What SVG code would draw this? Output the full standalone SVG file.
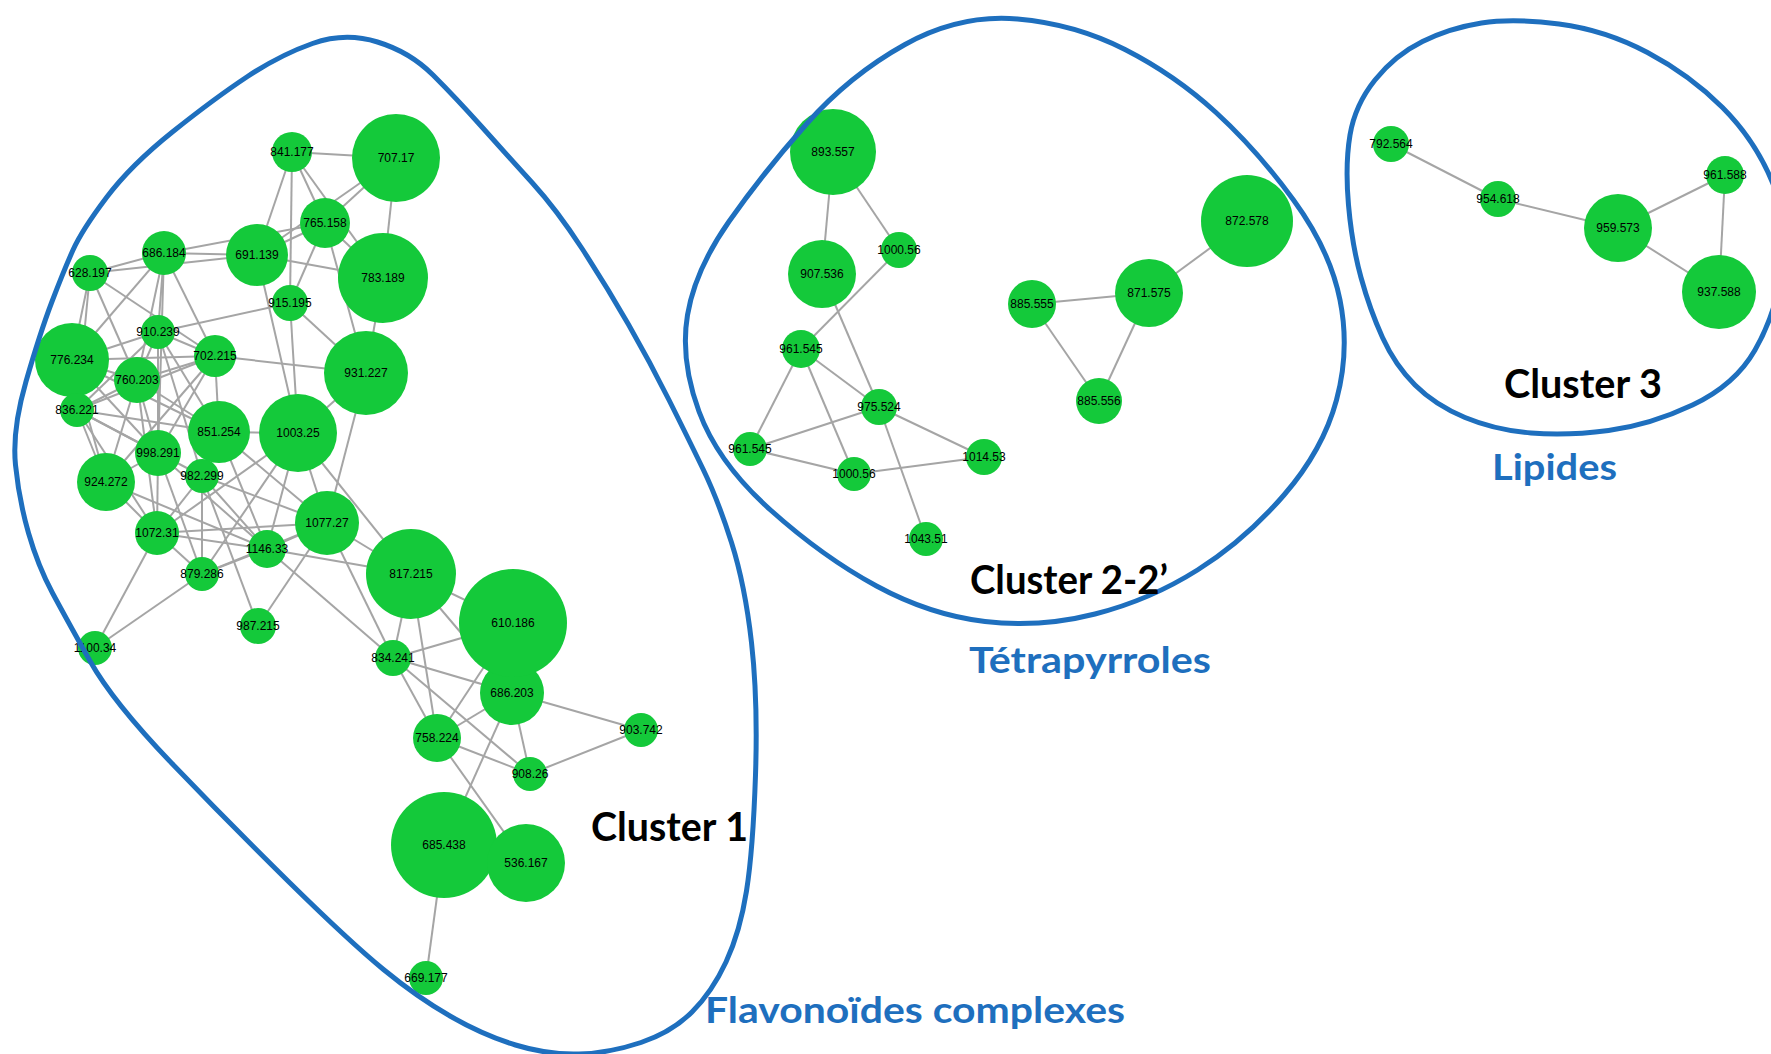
<svg xmlns="http://www.w3.org/2000/svg" width="1771" height="1054" viewBox="0 0 1771 1054">
<style>
.e line{stroke:#a5a5a5;stroke-width:2}
.n circle{fill:#14c93a}
.n text{font-family:"Liberation Sans",Arial,sans-serif;font-size:12px;fill:#000;text-anchor:middle}
.b{fill:none;stroke:#1e6fbe;stroke-width:5}
.cl{font-family:Lato,"Liberation Sans",Arial,sans-serif;font-weight:700;font-size:40px;fill:#000}
.ct{font-family:Lato,"Liberation Sans",Arial,sans-serif;font-weight:700;font-size:37px;fill:#1e6fbe}
</style>
<rect width="1771" height="1054" fill="#fff"/>
<g id="connectors" class="e">
<line x1="292" y1="152" x2="396" y2="158"/>
<line x1="292" y1="152" x2="325" y2="223"/>
<line x1="292" y1="152" x2="383" y2="278"/>
<line x1="292" y1="152" x2="257" y2="255"/>
<line x1="292" y1="152" x2="290" y2="303"/>
<line x1="396" y1="158" x2="325" y2="223"/>
<line x1="396" y1="158" x2="257" y2="255"/>
<line x1="396" y1="158" x2="383" y2="278"/>
<line x1="325" y1="223" x2="257" y2="255"/>
<line x1="325" y1="223" x2="383" y2="278"/>
<line x1="325" y1="223" x2="290" y2="303"/>
<line x1="325" y1="223" x2="366" y2="373"/>
<line x1="383" y1="278" x2="366" y2="373"/>
<line x1="383" y1="278" x2="257" y2="255"/>
<line x1="164" y1="253" x2="90" y2="273"/>
<line x1="90" y1="273" x2="257" y2="255"/>
<line x1="164" y1="253" x2="257" y2="255"/>
<line x1="164" y1="253" x2="325" y2="223"/>
<line x1="164" y1="253" x2="72" y2="360"/>
<line x1="164" y1="253" x2="137" y2="380"/>
<line x1="164" y1="253" x2="158" y2="332"/>
<line x1="164" y1="253" x2="158" y2="453"/>
<line x1="164" y1="253" x2="215" y2="356"/>
<line x1="90" y1="273" x2="72" y2="360"/>
<line x1="90" y1="273" x2="77" y2="410"/>
<line x1="90" y1="273" x2="137" y2="380"/>
<line x1="90" y1="273" x2="215" y2="356"/>
<line x1="257" y1="255" x2="298" y2="433"/>
<line x1="290" y1="303" x2="158" y2="332"/>
<line x1="290" y1="303" x2="298" y2="433"/>
<line x1="290" y1="303" x2="366" y2="373"/>
<line x1="158" y1="332" x2="215" y2="356"/>
<line x1="158" y1="332" x2="137" y2="380"/>
<line x1="158" y1="332" x2="72" y2="360"/>
<line x1="158" y1="332" x2="219" y2="432"/>
<line x1="158" y1="332" x2="158" y2="453"/>
<line x1="158" y1="332" x2="202" y2="476"/>
<line x1="158" y1="332" x2="77" y2="410"/>
<line x1="72" y1="360" x2="215" y2="356"/>
<line x1="72" y1="360" x2="137" y2="380"/>
<line x1="72" y1="360" x2="77" y2="410"/>
<line x1="72" y1="360" x2="106" y2="482"/>
<line x1="72" y1="360" x2="158" y2="453"/>
<line x1="72" y1="360" x2="219" y2="432"/>
<line x1="215" y1="356" x2="366" y2="373"/>
<line x1="215" y1="356" x2="219" y2="432"/>
<line x1="215" y1="356" x2="137" y2="380"/>
<line x1="215" y1="356" x2="77" y2="410"/>
<line x1="215" y1="356" x2="158" y2="453"/>
<line x1="215" y1="356" x2="106" y2="482"/>
<line x1="366" y1="373" x2="298" y2="433"/>
<line x1="366" y1="373" x2="327" y2="523"/>
<line x1="298" y1="433" x2="219" y2="432"/>
<line x1="298" y1="433" x2="327" y2="523"/>
<line x1="298" y1="433" x2="411" y2="574"/>
<line x1="298" y1="433" x2="267" y2="549"/>
<line x1="298" y1="433" x2="202" y2="574"/>
<line x1="298" y1="433" x2="157" y2="533"/>
<line x1="219" y1="432" x2="327" y2="523"/>
<line x1="219" y1="432" x2="267" y2="549"/>
<line x1="219" y1="432" x2="137" y2="380"/>
<line x1="219" y1="432" x2="77" y2="410"/>
<line x1="158" y1="453" x2="77" y2="410"/>
<line x1="158" y1="453" x2="137" y2="380"/>
<line x1="158" y1="453" x2="106" y2="482"/>
<line x1="158" y1="453" x2="157" y2="533"/>
<line x1="158" y1="453" x2="202" y2="574"/>
<line x1="158" y1="453" x2="267" y2="549"/>
<line x1="106" y1="482" x2="77" y2="410"/>
<line x1="106" y1="482" x2="137" y2="380"/>
<line x1="106" y1="482" x2="157" y2="533"/>
<line x1="106" y1="482" x2="267" y2="549"/>
<line x1="202" y1="476" x2="157" y2="533"/>
<line x1="202" y1="476" x2="202" y2="574"/>
<line x1="202" y1="476" x2="267" y2="549"/>
<line x1="202" y1="476" x2="327" y2="523"/>
<line x1="202" y1="476" x2="77" y2="410"/>
<line x1="157" y1="533" x2="95" y2="648"/>
<line x1="157" y1="533" x2="327" y2="523"/>
<line x1="157" y1="533" x2="267" y2="549"/>
<line x1="157" y1="533" x2="202" y2="574"/>
<line x1="157" y1="533" x2="137" y2="380"/>
<line x1="327" y1="523" x2="411" y2="574"/>
<line x1="327" y1="523" x2="393" y2="658"/>
<line x1="327" y1="523" x2="267" y2="549"/>
<line x1="327" y1="523" x2="258" y2="626"/>
<line x1="327" y1="523" x2="202" y2="574"/>
<line x1="267" y1="549" x2="411" y2="574"/>
<line x1="267" y1="549" x2="393" y2="658"/>
<line x1="267" y1="549" x2="202" y2="574"/>
<line x1="202" y1="574" x2="95" y2="648"/>
<line x1="202" y1="476" x2="258" y2="626"/>
<line x1="411" y1="574" x2="393" y2="658"/>
<line x1="411" y1="574" x2="513" y2="623"/>
<line x1="411" y1="574" x2="512" y2="693"/>
<line x1="411" y1="574" x2="437" y2="738"/>
<line x1="393" y1="658" x2="513" y2="623"/>
<line x1="393" y1="658" x2="512" y2="693"/>
<line x1="393" y1="658" x2="437" y2="738"/>
<line x1="393" y1="658" x2="530" y2="774"/>
<line x1="437" y1="738" x2="526" y2="863"/>
<line x1="512" y1="693" x2="444" y2="845"/>
<line x1="512" y1="693" x2="641" y2="730"/>
<line x1="512" y1="693" x2="530" y2="774"/>
<line x1="512" y1="693" x2="437" y2="738"/>
<line x1="437" y1="738" x2="513" y2="623"/>
<line x1="437" y1="738" x2="530" y2="774"/>
<line x1="641" y1="730" x2="530" y2="774"/>
<line x1="444" y1="845" x2="426" y2="978"/>
<line x1="77" y1="410" x2="137" y2="380"/>
<line x1="77" y1="410" x2="157" y2="533"/>
<line x1="833" y1="152" x2="822" y2="274"/>
<line x1="833" y1="152" x2="899" y2="250"/>
<line x1="899" y1="250" x2="801" y2="349"/>
<line x1="822" y1="274" x2="879" y2="407"/>
<line x1="801" y1="349" x2="879" y2="407"/>
<line x1="801" y1="349" x2="750" y2="449"/>
<line x1="801" y1="349" x2="854" y2="474"/>
<line x1="750" y1="449" x2="879" y2="407"/>
<line x1="750" y1="449" x2="854" y2="474"/>
<line x1="879" y1="407" x2="984" y2="457"/>
<line x1="879" y1="407" x2="926" y2="539"/>
<line x1="854" y1="474" x2="984" y2="457"/>
<line x1="1032" y1="304" x2="1149" y2="293"/>
<line x1="1032" y1="304" x2="1099" y2="401"/>
<line x1="1149" y1="293" x2="1099" y2="401"/>
<line x1="1149" y1="293" x2="1247" y2="221"/>
<line x1="1391" y1="144" x2="1498" y2="199"/>
<line x1="1498" y1="199" x2="1618" y2="228"/>
<line x1="1618" y1="228" x2="1725" y2="175"/>
<line x1="1618" y1="228" x2="1719" y2="292"/>
<line x1="1725" y1="175" x2="1719" y2="292"/>
</g>
<g id="nodes" class="n">
<g id="n841-177"><circle cx="292" cy="152" r="20"/><text x="292" y="156">841.177</text></g>
<g id="n707-17"><circle cx="396" cy="158" r="44"/><text x="396" y="162">707.17</text></g>
<g id="n765-158"><circle cx="325" cy="223" r="25"/><text x="325" y="227">765.158</text></g>
<g id="n686-184"><circle cx="164" cy="253" r="22"/><text x="164" y="257">686.184</text></g>
<g id="n628-197"><circle cx="90" cy="273" r="18"/><text x="90" y="277">628.197</text></g>
<g id="n691-139"><circle cx="257" cy="255" r="31"/><text x="257" y="259">691.139</text></g>
<g id="n783-189"><circle cx="383" cy="278" r="45"/><text x="383" y="282">783.189</text></g>
<g id="n915-195"><circle cx="290" cy="303" r="18"/><text x="290" y="307">915.195</text></g>
<g id="n910-239"><circle cx="158" cy="332" r="17"/><text x="158" y="336">910.239</text></g>
<g id="n776-234"><circle cx="72" cy="360" r="37"/><text x="72" y="364">776.234</text></g>
<g id="n702-215"><circle cx="215" cy="356" r="21"/><text x="215" y="360">702.215</text></g>
<g id="n760-203"><circle cx="137" cy="380" r="23"/><text x="137" y="384">760.203</text></g>
<g id="n931-227"><circle cx="366" cy="373" r="42"/><text x="366" y="377">931.227</text></g>
<g id="n836-221"><circle cx="77" cy="410" r="17"/><text x="77" y="414">836.221</text></g>
<g id="n982-299"><circle cx="202" cy="476" r="17"/><text x="202" y="480">982.299</text></g>
<g id="n851-254"><circle cx="219" cy="432" r="31"/><text x="219" y="436">851.254</text></g>
<g id="n1003-25"><circle cx="298" cy="433" r="39"/><text x="298" y="437">1003.25</text></g>
<g id="n998-291"><circle cx="158" cy="453" r="23"/><text x="158" y="457">998.291</text></g>
<g id="n924-272"><circle cx="106" cy="482" r="29"/><text x="106" y="486">924.272</text></g>
<g id="n1072-31"><circle cx="157" cy="533" r="22"/><text x="157" y="537">1072.31</text></g>
<g id="n1077-27"><circle cx="327" cy="523" r="32"/><text x="327" y="527">1077.27</text></g>
<g id="n1146-33"><circle cx="267" cy="549" r="19"/><text x="267" y="553">1146.33</text></g>
<g id="n879-286"><circle cx="202" cy="574" r="17"/><text x="202" y="578">879.286</text></g>
<g id="n817-215"><circle cx="411" cy="574" r="45"/><text x="411" y="578">817.215</text></g>
<g id="n987-215"><circle cx="258" cy="626" r="18"/><text x="258" y="630">987.215</text></g>
<g id="n1100-34"><circle cx="95" cy="648" r="17"/><text x="95" y="652">1100.34</text></g>
<g id="n834-241"><circle cx="393" cy="658" r="18"/><text x="393" y="662">834.241</text></g>
<g id="n686-203"><circle cx="512" cy="693" r="32"/><text x="512" y="697">686.203</text></g>
<g id="n610-186"><circle cx="513" cy="623" r="54"/><text x="513" y="627">610.186</text></g>
<g id="n903-742"><circle cx="641" cy="730" r="17"/><text x="641" y="734">903.742</text></g>
<g id="n758-224"><circle cx="437" cy="738" r="24"/><text x="437" y="742">758.224</text></g>
<g id="n908-26"><circle cx="530" cy="774" r="17"/><text x="530" y="778">908.26</text></g>
<g id="n685-438"><circle cx="444" cy="845" r="53"/><text x="444" y="849">685.438</text></g>
<g id="n536-167"><circle cx="526" cy="863" r="39"/><text x="526" y="867">536.167</text></g>
<g id="n669-177"><circle cx="426" cy="978" r="17"/><text x="426" y="982">669.177</text></g>
<g id="n893-557"><circle cx="833" cy="152" r="43"/><text x="833" y="156">893.557</text></g>
<g id="n907-536"><circle cx="822" cy="274" r="34"/><text x="822" y="278">907.536</text></g>
<g id="n1000-56a"><circle cx="899" cy="250" r="18"/><text x="899" y="254">1000.56</text></g>
<g id="n961-545a"><circle cx="801" cy="349" r="19"/><text x="801" y="353">961.545</text></g>
<g id="n975-524"><circle cx="879" cy="407" r="18"/><text x="879" y="411">975.524</text></g>
<g id="n961-545b"><circle cx="750" cy="449" r="17"/><text x="750" y="453">961.545</text></g>
<g id="n1000-56b"><circle cx="854" cy="474" r="17"/><text x="854" y="478">1000.56</text></g>
<g id="n1014-53"><circle cx="984" cy="457" r="18"/><text x="984" y="461">1014.53</text></g>
<g id="n1043-51"><circle cx="926" cy="539" r="17"/><text x="926" y="543">1043.51</text></g>
<g id="n885-555"><circle cx="1032" cy="304" r="24"/><text x="1032" y="308">885.555</text></g>
<g id="n871-575"><circle cx="1149" cy="293" r="34"/><text x="1149" y="297">871.575</text></g>
<g id="n872-578"><circle cx="1247" cy="221" r="46"/><text x="1247" y="225">872.578</text></g>
<g id="n885-556"><circle cx="1099" cy="401" r="23"/><text x="1099" y="405">885.556</text></g>
<g id="n792-564"><circle cx="1391" cy="144" r="18"/><text x="1391" y="148">792.564</text></g>
<g id="n954-618"><circle cx="1498" cy="199" r="18"/><text x="1498" y="203">954.618</text></g>
<g id="n959-573"><circle cx="1618" cy="228" r="34"/><text x="1618" y="232">959.573</text></g>
<g id="n961-588"><circle cx="1725" cy="175" r="19"/><text x="1725" y="179">961.588</text></g>
<g id="n937-588"><circle cx="1719" cy="292" r="37"/><text x="1719" y="296">937.588</text></g>
</g>
<g id="clusters">
<path id="cluster1" class="b" d="M377.5,42 Q410,52 433,75 Q456,98 481.5,126.5 Q507,155 532,182.5 Q557,210 582,248.5 Q607,287 628.5,324.5 Q650,362 669,400 Q688,438 703,469 Q718,500 731.5,542.5 Q745,585 751.5,642.5 Q758,700 755.5,775 Q753,850 746.5,891 Q740,932 726,962 Q712,992 692,1012 Q672,1032 641,1042.5 Q610,1053 579,1054 Q548,1055 515.5,1045 Q483,1035 450,1016 Q417,997 383.5,969.5 Q350,942 290,883 Q230,824 171.5,763 Q113,702 90,661 Q67,620 52.5,593 Q38,566 28.5,533 Q19,500 15.5,465 Q12,430 26,381.5 Q40,333 52,301.5 Q64,270 73,250 Q82,230 106.5,197.5 Q131,165 173,131.5 Q215,98 247.5,76.5 Q280,55 312.5,43.5 Q345,32 377.5,42 Z"/>
<path id="cluster2" class="b" d="M1017.5,19 Q1075,24 1125,49.5 Q1175,75 1216,112.5 Q1257,150 1293.5,200 Q1330,250 1340,300 Q1350,350 1336.5,400 Q1323,450 1284,495 Q1245,540 1197.5,570 Q1150,600 1095,614 Q1040,628 985,621.5 Q930,615 876.5,586 Q823,557 770.5,510 Q718,463 699,411.5 Q680,360 687.5,315 Q695,270 729,221.5 Q763,173 806.5,124 Q850,75 905,44.5 Q960,14 1017.5,19 Z"/>
<path id="cluster3" class="b" d="M1559,24 Q1605,30 1647.5,52.5 Q1690,75 1722.5,107.5 Q1755,140 1772.5,182.5 Q1790,225 1782.5,270 Q1775,315 1755,350 Q1735,385 1692.5,405 Q1650,425 1608.5,430.5 Q1567,436 1531,433 Q1495,430 1465,417.5 Q1435,405 1415,385 Q1395,365 1382.5,337.5 Q1370,310 1361,277.5 Q1352,245 1348.5,205 Q1345,165 1350,135 Q1355,105 1375,80 Q1395,55 1422.5,41.5 Q1450,28 1481.5,23 Q1513,18 1559,24 Z"/>
</g>
<g id="labels">
<text class="cl" x="591" y="841" textLength="157" lengthAdjust="spacingAndGlyphs">Cluster 1</text>
<text class="cl" x="970" y="594" textLength="198" lengthAdjust="spacingAndGlyphs">Cluster 2-2’</text>
<text class="cl" x="1504" y="398" textLength="158" lengthAdjust="spacingAndGlyphs">Cluster 3</text>
<text class="ct" x="705" y="1023" textLength="420" lengthAdjust="spacingAndGlyphs">Flavonoïdes complexes</text>
<text class="ct" x="969" y="673" textLength="242" lengthAdjust="spacingAndGlyphs">Tétrapyrroles</text>
<text class="ct" x="1492" y="480" textLength="125" lengthAdjust="spacingAndGlyphs">Lipides</text>
</g>
</svg>
